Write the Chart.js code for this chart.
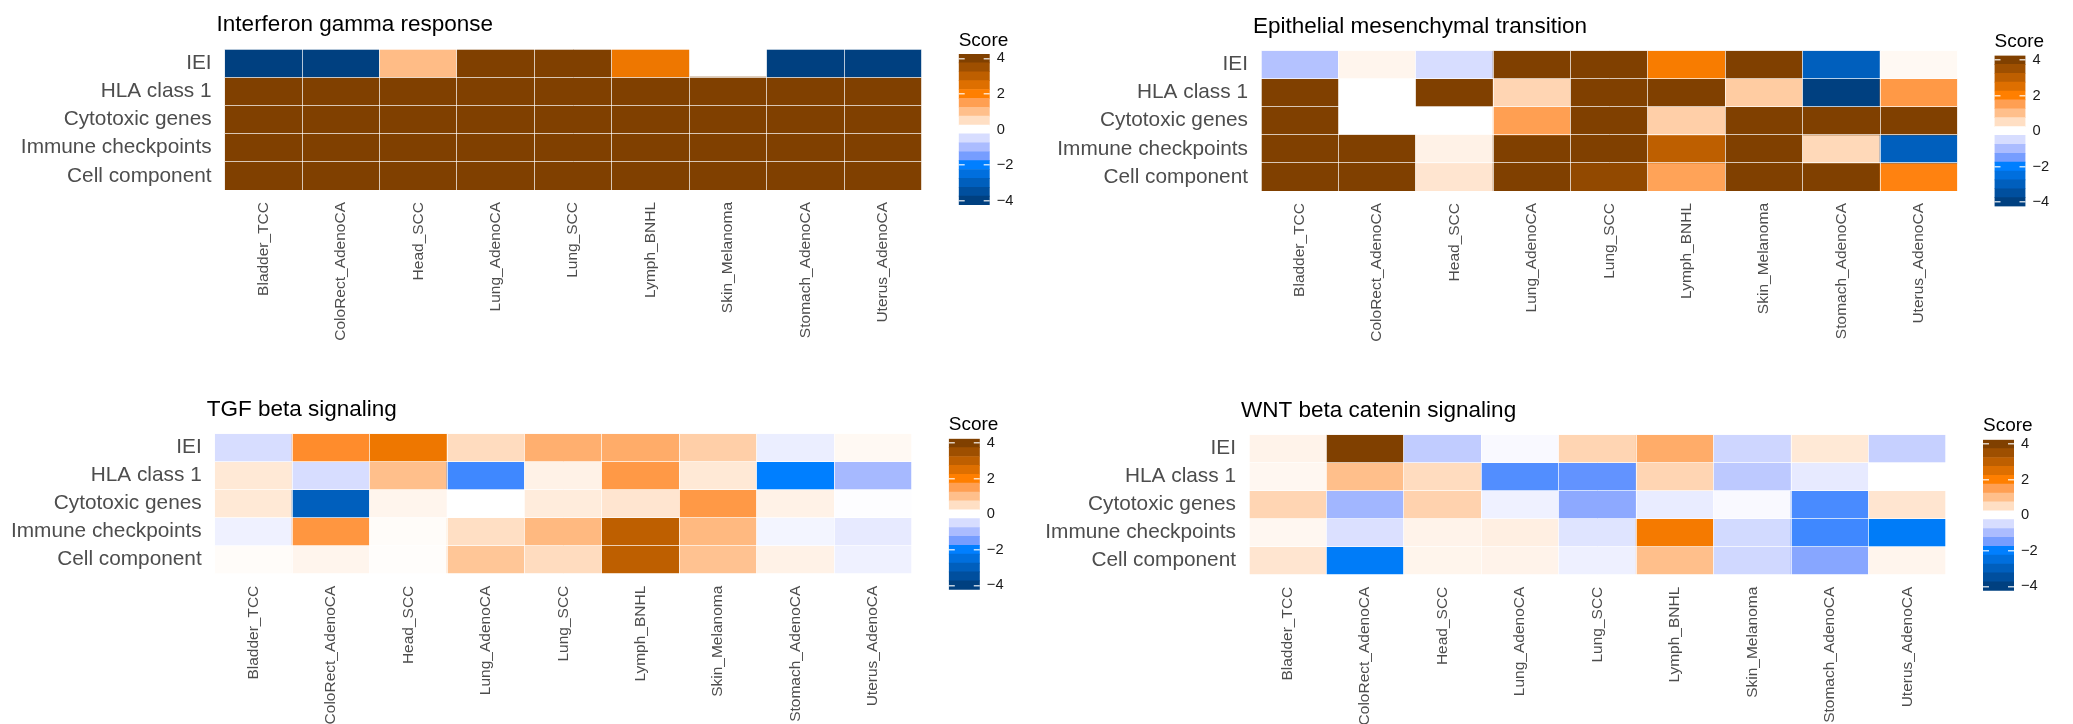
<!DOCTYPE html>
<html>
<head>
<meta charset="utf-8">
<title>Pathway scores by cancer type</title>
<script src="https://cdn.jsdelivr.net/npm/chart.js@4.4.1/dist/chart.umd.min.js"></script>
<style>
  html, body { margin: 0; padding: 0; background: #ffffff; }
  #board { position: relative; width: 2073px; height: 724px; overflow: hidden; background: #ffffff; }
  #board canvas { position: absolute; }
</style>
</head>
<body>
<div id="board"></div>
<script>
// ---- data -------------------------------------------------------------
const cancerTypes = ['Bladder_TCC', 'ColoRect_AdenoCA', 'Head_SCC', 'Lung_AdenoCA', 'Lung_SCC',
                     'Lymph_BNHL', 'Skin_Melanoma', 'Stomach_AdenoCA', 'Uterus_AdenoCA'];
const featureRows = ['IEI', 'HLA class 1', 'Cytotoxic genes', 'Immune checkpoints', 'Cell component'];
const panelTitles = ['Interferon gamma response', 'Epithelial mesenchymal transition',
                     'TGF beta signaling', 'WNT beta catenin signaling'];

// one row per feature (featureRows order), one column per cancer type; null = no score
const ifnGammaScores = [
  [-4, -4, 1.05, 4, 4, 2.25, null, -4, -4],
  [4, 4, 4, 4, 4, 4, 4, 4, 4],
  [4, 4, 4, 4, 4, 4, 4, 4, 4],
  [4, 4, 4, 4, 4, 4, 4, 4, 4],
  [4, 4, 4, 4, 4, 4, 4, 4, 4]
];
const emtScores = [
  [-0.9, 0.15, -0.5, 4, 4, 2.1, 4, -3.0, 0.1],
  [4, null, 4, 0.65, 4, 4, 0.8, -4, 1.6],
  [4, null, null, 1.5, 4, 0.75, 4, 4, 4],
  [4, 4, 0.2, 4, 4, 3.0, 4, 0.6, -3.0],
  [4, 4, 0.4, 4, 3.7, 1.45, 4, 4, 1.95]
];
const tgfBetaScores = [
  [-0.5, 1.8, 2.25, 0.55, 1.25, 1.3, 0.75, -0.25, 0.1],
  [0.35, -0.5, 1.0, -1.85, 0.2, 1.6, 0.35, -2.0, -1.05],
  [0.35, -3.0, 0.15, 0, 0.3, 0.4, 1.6, 0.2, -0.03],
  [-0.2, 1.65, 0.05, 0.5, 1.1, 3.0, 1.1, -0.15, -0.3],
  [0.05, 0.15, 0.03, 0.9, 0.55, 3.0, 0.95, 0.2, -0.2]
];
const wntScores = [
  [0.18, 4, -0.75, -0.08, 0.65, 1.3, -0.6, 0.35, -0.7],
  [0.12, 1.0, 0.55, -1.75, -1.65, 0.65, -0.8, -0.3, 0],
  [0.65, -1.1, 0.7, -0.2, -1.3, -0.28, -0.08, -1.8, 0.4],
  [0.12, -0.45, 0.18, 0.25, -0.4, 2.15, -0.55, -1.85, -2.1],
  [0.4, -2.1, 0.16, 0.18, -0.22, 1.0, -0.58, -1.35, 0.15]
];

// colour key
const scoreTicks = [-4, -2, 0, 2, 4];
const legendBins = [-4, -3.5, -3, -2.5, -2, -1.5, -1, -0.5, 0, 0.5, 1, 1.5, 2, 2.5, 3, 3.5, 4];
const scoreStops = [-4, -2, 0, 2, 4];
const scoreStopColors = ['#004080', '#007FFF', '#FFFFFF', '#FF7F00', '#804000'];

// ---- colour scale (linear interpolation in CIE Lab, values clamped) ----
function toLin(c) { c /= 255; return c <= 0.04045 ? c / 12.92 : Math.pow((c + 0.055) / 1.055, 2.4); }
function toSrgb(v) {
  v = v <= 0.0031308 ? 12.92 * v : 1.055 * Math.pow(Math.max(v, 0), 1 / 2.4) - 0.055;
  return Math.round(Math.min(1, Math.max(0, v)) * 255);
}
function hexToLab(hex) {
  const r = toLin(parseInt(hex.slice(1, 3), 16)), g = toLin(parseInt(hex.slice(3, 5), 16)), b = toLin(parseInt(hex.slice(5, 7), 16));
  const X = (0.4124 * r + 0.3576 * g + 0.1805 * b) / 0.95047;
  const Y = 0.2126 * r + 0.7152 * g + 0.0722 * b;
  const Z = (0.0193 * r + 0.1192 * g + 0.9505 * b) / 1.08883;
  const f = t => t > 0.008856 ? Math.cbrt(t) : 7.787 * t + 16 / 116;
  const fx = f(X), fy = f(Y), fz = f(Z);
  return [116 * fy - 16, 500 * (fx - fy), 200 * (fy - fz)];
}
function labToCss(L, a, b) {
  const fy = (L + 16) / 116, fx = fy + a / 500, fz = fy - b / 200;
  const inv = t => (t * t * t > 0.008856 ? t * t * t : (t - 16 / 116) / 7.787);
  const X = inv(fx) * 0.95047, Y = inv(fy), Z = inv(fz) * 1.08883;
  const r = 3.2406 * X - 1.5372 * Y - 0.4986 * Z;
  const g = -0.9689 * X + 1.8758 * Y + 0.0415 * Z;
  const bl = 0.0557 * X - 0.2040 * Y + 1.0570 * Z;
  return 'rgb(' + toSrgb(r) + ',' + toSrgb(g) + ',' + toSrgb(bl) + ')';
}
const stopLab = scoreStopColors.map(hexToLab);
function scoreColor(v) {
  const x = Math.min(scoreStops[scoreStops.length - 1], Math.max(scoreStops[0], v));
  let i = 0;
  while (i < scoreStops.length - 2 && x > scoreStops[i + 1]) i++;
  const t = (x - scoreStops[i]) / (scoreStops[i + 1] - scoreStops[i]);
  const A = stopLab[i], B = stopLab[i + 1];
  return labToCss(A[0] + (B[0] - A[0]) * t, A[1] + (B[1] - A[1]) * t, A[2] + (B[2] - A[2]) * t);
}

// ---- layout -----------------------------------------------------------
const FONT = "'Liberation Sans', Arial, Helvetica, sans-serif";
const panels = [
  { title: panelTitles[0], scores: ifnGammaScores, box: { x: 0,    y: 0,   w: 940, h: 362 }, area: { l: 224.6, t: 49,    r: 921.7,  b: 190 } },
  { title: panelTitles[1], scores: emtScores,      box: { x: 1036, y: 0,   w: 940, h: 362 }, area: { l: 1261,  t: 50.5,  r: 1957.5, b: 191 } },
  { title: panelTitles[2], scores: tgfBetaScores,  box: { x: 0,    y: 362, w: 940, h: 362 }, area: { l: 214.7, t: 433.7, r: 911.8,  b: 573.7 } },
  { title: panelTitles[3], scores: wntScores,      box: { x: 1036, y: 362, w: 940, h: 362 }, area: { l: 1249,  t: 434.7, r: 1946,   b: 574.7 } }
];

Chart.defaults.font.family = FONT;
const board = document.getElementById('board');

// panel heading, set slightly left of the plotting area like the source figure
const panelTitlePlugin = {
  id: 'panelTitle',
  afterDraw(chart, _args, opts) {
    if (!opts.text) return;
    const { ctx, chartArea } = chart;
    ctx.save();
    ctx.font = opts.size + 'px ' + FONT;
    ctx.fillStyle = opts.color;
    ctx.textAlign = 'left';
    ctx.textBaseline = 'middle';
    ctx.fillText(opts.text, chartArea.left + opts.dx, chartArea.top + opts.dy);
    ctx.restore();
  }
};

function addCanvas(x, y, w, h) {
  const cv = document.createElement('canvas');
  cv.width = w; cv.height = h;
  cv.style.left = x + 'px'; cv.style.top = y + 'px';
  cv.style.width = w + 'px'; cv.style.height = h + 'px';
  board.appendChild(cv);
  return cv;
}

function drawHeatmap(p) {
  const { x: x0, y: y0, w, h } = p.box;
  const a = p.area;
  const nRows = featureRows.length;
  const cv = addCanvas(x0, y0, w, h);
  new Chart(cv, {
    type: 'bar',
    plugins: [panelTitlePlugin],
    data: {
      labels: cancerTypes,
      datasets: featureRows.map((row, r) => ({
        label: row,
        data: p.scores[r].map(v => (v === null ? null : [nRows - 1 - r, nRows - r])),
        backgroundColor: p.scores[r].map(v => (v === null ? 'rgba(0,0,0,0)' : scoreColor(v))),
        borderWidth: 0,
        grouped: false,
        barPercentage: 1,
        categoryPercentage: 1
      }))
    },
    options: {
      responsive: false,
      animation: false,
      events: [],
      devicePixelRatio: 1,
      layout: { padding: { left: 0, top: a.t - y0, right: (x0 + w) - a.r, bottom: 0 } },
      plugins: {
        legend: { display: false },
        tooltip: { enabled: false },
        title: { display: false },
        panelTitle: { text: p.title, size: 22.5, color: '#000000', dx: -8, dy: -24 }
      },
      scales: {
        x: {
          type: 'category',
          offset: true,
          grid: { offset: true, z: 1, color: 'rgba(255,255,255,0.7)', lineWidth: 1, drawTicks: false },
          border: { display: false },
          ticks: {
            autoSkip: false, minRotation: 90, maxRotation: 90, padding: 12,
            color: '#4D4D4D', font: { size: 15.5 }
          },
          afterFit: s => { s.height = (y0 + h) - a.b; }
        },
        y: { type: 'linear', min: 0, max: nRows, display: false },
        rows: {
          type: 'category',
          axis: 'y',
          position: 'left',
          labels: featureRows,
          offset: true,
          grid: { offset: true, z: 1, color: 'rgba(255,255,255,0.7)', lineWidth: 1, drawTicks: false },
          border: { display: false },
          ticks: { padding: 13, color: '#4D4D4D', font: { size: 20.8 } },
          afterFit: s => { s.width = a.l - x0; }
        }
      }
    }
  });
}

function drawColourKey(p) {
  const a = p.area;
  const bar = { l: a.r + 37, t: a.t + 5, w: 31, h: 151 };
  const x0 = Math.round(bar.l - 18), y0 = Math.round(bar.t - 54);
  const w = 96, h = 230;
  const padLeft = bar.l - x0;
  const areaTop = bar.t - y0;
  const titleSize = 19, titleLH = titleSize * 1.2;
  const titleCY = areaTop - 13.5;
  const cv = addCanvas(x0, y0, w, h);
  new Chart(cv, {
    type: 'bar',
    data: {
      labels: ['Score'],
      datasets: legendBins.map(c => ({
        data: [[c - 0.25, c + 0.25]],
        backgroundColor: scoreColor(c),
        borderWidth: 0,
        grouped: false,
        barPercentage: 1,
        categoryPercentage: 1
      }))
    },
    options: {
      responsive: false,
      animation: false,
      events: [],
      devicePixelRatio: 1,
      layout: { padding: { left: padLeft, top: 0, right: 0, bottom: h - areaTop - bar.h } },
      plugins: {
        legend: { display: false },
        tooltip: { enabled: false },
        title: {
          display: true,
          text: 'Score',
          align: 'start',
          fullSize: true,
          color: '#000000',
          font: { size: titleSize, weight: 'normal', lineHeight: 1.2 },
          padding: { top: titleCY - titleLH / 2, bottom: areaTop - titleCY - titleLH / 2 }
        }
      },
      scales: {
        x: { type: 'category', offset: true, display: false },
        y: {
          type: 'linear',
          position: 'right',
          min: -4.25,
          max: 4.25,
          afterBuildTicks: s => { s.ticks = scoreTicks.map(v => ({ value: v })); },
          afterFit: s => { s.width = w - padLeft - bar.w; },
          grid: { z: 1, color: 'rgba(255,255,255,0.75)', lineWidth: 1.5, drawTicks: false },
          border: { display: false, dash: [6, 19] },
          ticks: {
            padding: 7,
            color: '#1A1A1A',
            font: { size: 14.7 },
            callback: v => (v < 0 ? '\u2212' + Math.abs(v) : String(v))
          }
        }
      }
    }
  });
}

panels.forEach(p => { drawHeatmap(p); drawColourKey(p); });
</script>
</body>
</html>
